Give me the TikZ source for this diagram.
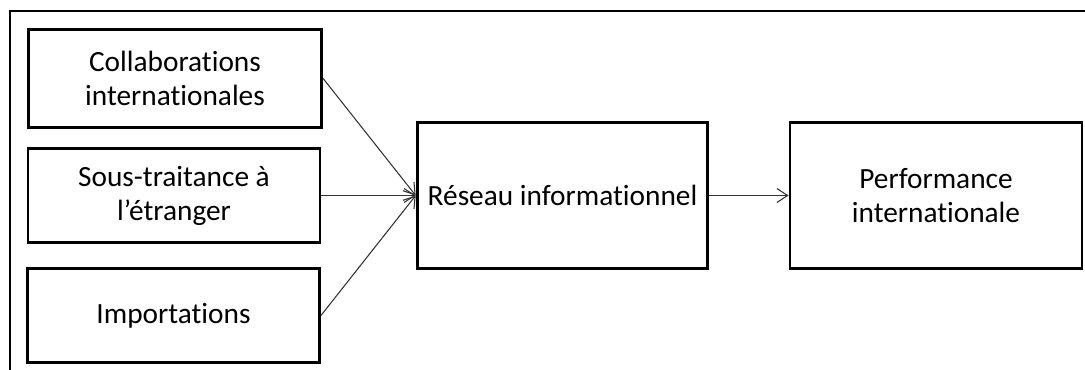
\documentclass[tikz,border=0pt]{standalone}
\usepackage{fontspec}
\setmainfont{Carlito}[Ligatures=NoCommon]
\usetikzlibrary{arrows.meta}

\tikzset{
  boite/.style={draw=black, line width=2.2pt, align=center, inner sep=0pt,
                font=\fontsize{22}{25.5}\selectfont},
  fleche/.style={draw=black!80, line width=0.8pt, -{Straight Barb[length=8pt,width=10.5pt]}}
}

\begin{document}
\begin{tikzpicture}[x=0.75pt, y=-0.75pt]
    \useasboundingbox (0,0) rectangle (1085,370);
    % outer frame, open on the right and bottom
    \draw[line width=0.8pt] (10,370) -- (10,11) -- (1085,11);

    \node[boite, minimum width=220pt, minimum height=73pt] (collab) at (175,78.5) {Collaborations\\internationales};
    \node[boite, minimum width=219pt, minimum height=71pt] (soustrait) at (174,195.5) {Sous-traitance à\\l’étranger};
    \node[boite, minimum width=219pt, minimum height=71pt] (import) at (173.5,315.5) {Importations};

    \node[boite, minimum width=218pt, minimum height=110pt] (reseau) at (562.5,195.5) {Réseau informationnel};
    \node[boite, minimum width=219pt, minimum height=109pt] (perf) at (936,195.5) {Performance\\internationale};

    \draw[fleche] (collab.east) -- (reseau.west);
    \draw[fleche] (soustrait.east) -- (reseau.west);
    \draw[fleche] (import.east) -- (reseau.west);
    \draw[fleche] (reseau.east) -- (perf.west);
\end{tikzpicture}
\end{document}
